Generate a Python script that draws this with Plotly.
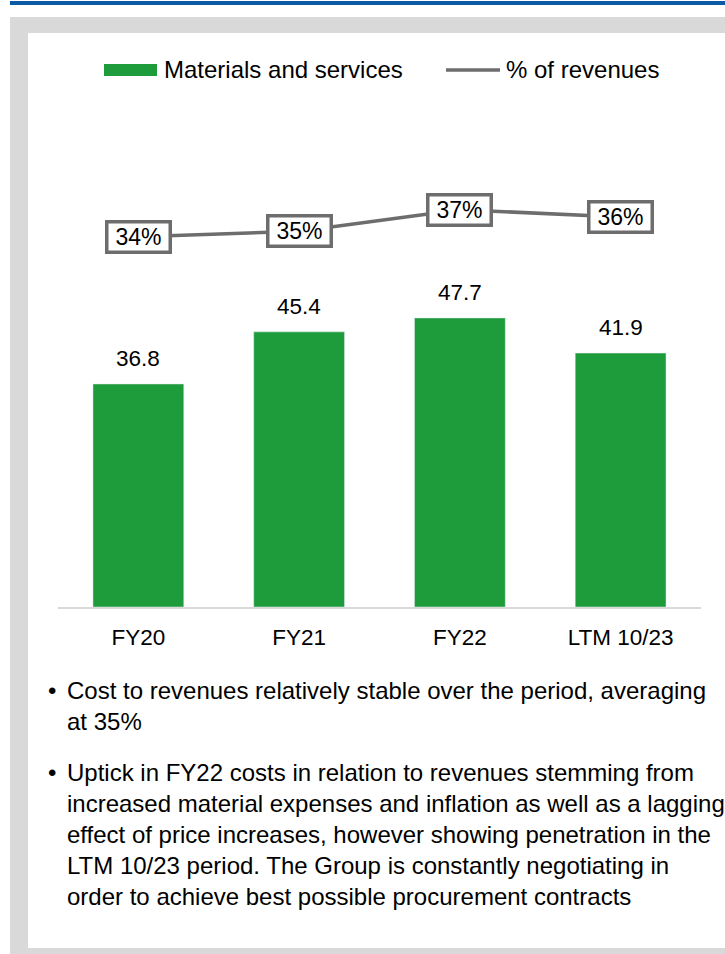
"""
Materials and services vs % of revenues
"""
import plotly.graph_objects as go

# data
categories = ['FY20', 'FY21', 'FY22', 'LTM 10/23']
materials = [36.8, 45.4, 47.7, 41.9]
pct_revenues = [34.1, 34.7, 37.1, 36.3]

legend_labels = ['Materials and services', '% of revenues']
bullets = [
    ['Cost to revenues relatively stable over the period, averaging',
     'at 35%'],
    ['Uptick in FY22 costs in relation to revenues stemming from',
     'increased material expenses and inflation as well as a lagging',
     'effect of price increases, however showing penetration in the',
     'LTM 10/23 period. The Group is constantly negotiating in',
     'order to achieve best possible procurement contracts'],
]

GREEN = '#1e9b3a'
LINE_GREY = '#6d6d6d'
FONT = 'Liberation Sans, Arial, sans-serif'

W, H = 725, 954
ML, MR, MT, MB = 58, 24, 100, 347
PW, PH = W - ML - MR, H - MT - MB


def px(x):
    # pixel x -> paper x
    return (x - ML) / PW


def py(y):
    # pixel y (from top) -> paper y
    return (H - MB - y) / PH


fig = go.Figure()

fig.add_trace(go.Bar(x=categories, y=materials, marker_color=GREEN,
                     width=0.565, name=legend_labels[0], yaxis='y'))
fig.add_trace(go.Scatter(x=categories, y=pct_revenues, mode='lines',
                         line=dict(color=LINE_GREY, width=3.5),
                         name=legend_labels[1], yaxis='y2'))

annotations = []
# bar value labels
for c, v in zip(categories, materials):
    annotations.append(dict(x=c, y=v, xref='x', yref='y', text=f'{v:.1f}',
                            showarrow=False, yanchor='bottom', yshift=11,
                            font=dict(size=22.5, color='black', family=FONT)))
# boxed % labels
for c, v in zip(categories, pct_revenues):
    annotations.append(dict(x=c, y=v, xref='x', yref='y2', text=f'{v:.0f}%',
                            showarrow=False, bgcolor='white',
                            bordercolor=LINE_GREY, borderwidth=3.5,
                            borderpad=2, width=56, height=23,
                            font=dict(size=23, color='black', family=FONT)))

# custom legend
annotations.append(dict(x=px(162), y=py(70), xref='paper', yref='paper',
                        text=legend_labels[0], showarrow=False,
                        xanchor='left', yanchor='middle',
                        font=dict(size=24, color='black', family=FONT)))
annotations.append(dict(x=px(504), y=py(70), xref='paper', yref='paper',
                        text=legend_labels[1], showarrow=False,
                        xanchor='left', yanchor='middle',
                        font=dict(size=24, color='black', family=FONT)))

# bullet text
line_y = 690
for para in bullets:
    annotations.append(dict(x=px(46), y=py(line_y), xref='paper', yref='paper',
                            text='•', showarrow=False, xanchor='left',
                            yanchor='middle',
                            font=dict(size=24, color='black', family=FONT)))
    for line in para:
        annotations.append(dict(x=px(65), y=py(line_y), xref='paper',
                                yref='paper', text=line, showarrow=False,
                                xanchor='left', yanchor='middle',
                                font=dict(size=24, color='black', family=FONT)))
        line_y += 31
    line_y += 20

shapes = [
    # top blue rule
    dict(type='rect', xref='paper', yref='paper', x0=px(10), x1=px(730),
         y0=py(1), y1=py(5), fillcolor='#0b5aa6', line_width=0, layer='below'),
    # grey frame
    dict(type='rect', xref='paper', yref='paper', x0=px(10), x1=px(730),
         y0=py(17), y1=py(960), fillcolor='#d9d9d9', line_width=0, layer='below'),
    # white panel
    dict(type='rect', xref='paper', yref='paper', x0=px(28), x1=px(730),
         y0=py(33), y1=py(948), fillcolor='white', line_width=0, layer='below'),
    # legend keys
    dict(type='rect', xref='paper', yref='paper', x0=px(104), x1=px(157),
         y0=py(64), y1=py(76), fillcolor=GREEN, line_width=0),
    dict(type='line', xref='paper', yref='paper', x0=px(446), x1=px(500),
         y0=py(70), y1=py(70), line=dict(color=LINE_GREY, width=3.5)),
]

fig.update_layout(
    width=W, height=H,
    margin=dict(l=ML, r=MR, t=MT, b=MB),
    paper_bgcolor='white', plot_bgcolor='rgba(0,0,0,0)',
    showlegend=False,
    font=dict(family=FONT, size=22, color='black'),
    xaxis=dict(showgrid=False, showline=True, linecolor='#d9d9d9',
               linewidth=1.5, ticks='', ticklabelstandoff=9,
               tickfont=dict(size=22.5, color='black')),
    yaxis=dict(range=[0, 83.66], visible=False, showgrid=False),
    yaxis2=dict(range=[-7.04, 49.29], overlaying='y', visible=False,
                showgrid=False),
    annotations=annotations,
    shapes=shapes,
)

# drop the default body margin so the figure sits at the page origin
fig.write_html("out.html", config={'displayModeBar': False},
               post_script="document.body.style.margin='0';")
